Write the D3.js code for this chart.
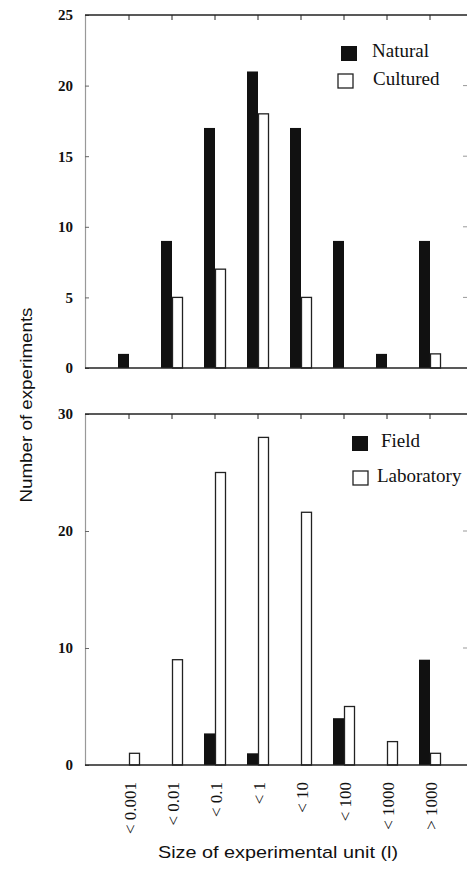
<!DOCTYPE html>
<html>
<head>
<meta charset="utf-8">
<script src="https://cdn.jsdelivr.net/npm/d3@7"></script>
<style>
  body { margin: 0; background: #fff; }
  svg { display: block; }
</style>
</head>
<body>
<svg id="chart"></svg>
<script>
// data
const categories = ["< 0.001", "< 0.01", "< 0.1", "< 1", "< 10", "< 100", "< 1000", "> 1000"];
const natural = [1, 9, 17, 21, 17, 9, 1, 9];
const cultured = [0, 5, 7, 18, 5, 0, 0, 1];
const field = [0, 0, 2.7, 1, 0, 4, 0, 9];
const laboratory = [1, 9, 25, 28, 21.6, 5, 2, 1];
const topTicks = [0, 5, 10, 15, 20, 25];
const bottomTicks = [0, 10, 20, 30];

const width = 467, height = 873;
const left = 85, right = 467;
const barW = 11;

const svg = d3.select("#chart")
    .attr("width", width)
    .attr("height", height);

const x = d3.scalePoint()
    .domain(categories)
    .range([129, 430]);

function panel(cfg) {
    const y = d3.scaleLinear()
        .domain([0, cfg.max])
        .range([cfg.bottom, cfg.top]);

    const g = svg.append("g");

    // left axis (ticks inside, labels outside)
    const axis = g.append("g")
        .attr("transform", `translate(${left},0)`)
        .call(d3.axisLeft(y).tickValues(cfg.ticks).tickSize(-4).tickPadding(12).tickFormat(d3.format("d")));
    axis.select(".domain").attr("stroke", "#999").attr("stroke-width", 1.2);
    axis.selectAll(".tick line").attr("stroke", "#666");
    axis.selectAll(".tick text")
        .attr("font-family", "'Liberation Serif', 'Times New Roman', serif")
        .attr("font-size", 15)
        .attr("font-weight", "bold")
        .attr("fill", "#111");

    // right-hand tick marks of the frame
    g.append("g").selectAll("line")
        .data(cfg.ticks.slice(1, -1))
        .join("line")
        .attr("x1", right - 4).attr("x2", right)
        .attr("y1", d => y(d)).attr("y2", d => y(d))
        .attr("stroke", "#999");

    // top frame line with ticks
    g.append("line")
        .attr("x1", left).attr("x2", right)
        .attr("y1", y(cfg.max)).attr("y2", y(cfg.max))
        .attr("stroke", "#222").attr("stroke-width", 1.3);
    g.append("g").selectAll("line")
        .data(categories)
        .join("line")
        .attr("x1", d => x(d)).attr("x2", d => x(d))
        .attr("y1", y(cfg.max)).attr("y2", y(cfg.max) + 5)
        .attr("stroke", "#222");

    // bars: filled series left of the centre, open series right
    g.append("g").selectAll("rect")
        .data(cfg.filled)
        .join("rect")
        .attr("x", (d, i) => x(categories[i]) - barW)
        .attr("y", d => y(d))
        .attr("width", barW)
        .attr("height", d => y(0) - y(d))
        .attr("fill", "#111");

    g.append("g").selectAll("rect")
        .data(cfg.open)
        .join("rect")
        .attr("x", (d, i) => x(categories[i]) + 0.5)
        .attr("y", d => y(d))
        .attr("width", barW - 1)
        .attr("height", d => y(0) - y(d))
        .attr("fill", "#fff")
        .attr("stroke", d => d > 0 ? "#222" : "none")
        .attr("stroke-width", 1.3);

    // baseline
    g.append("line")
        .attr("x1", left).attr("x2", right)
        .attr("y1", y(0)).attr("y2", y(0))
        .attr("stroke", "#222").attr("stroke-width", 1.3);

    // legend
    const lg = g.append("g")
        .attr("font-family", "'Liberation Serif', 'Times New Roman', serif")
        .attr("font-size", 19)
        .attr("fill", "#111");
    lg.append("rect")
        .attr("x", cfg.legend.x1).attr("y", cfg.legend.y1)
        .attr("width", 16).attr("height", 15)
        .attr("fill", "#111");
    lg.append("text")
        .attr("x", cfg.legend.tx1).attr("y", cfg.legend.y1 + 11)
        .text(cfg.names[0]);
    lg.append("rect")
        .attr("x", cfg.legend.x2).attr("y", cfg.legend.y2)
        .attr("width", 15).attr("height", 14)
        .attr("fill", "#fff").attr("stroke", "#222").attr("stroke-width", 1.3);
    lg.append("text")
        .attr("x", cfg.legend.tx2).attr("y", cfg.legend.y2 + 11)
        .text(cfg.names[1]);

    return y;
}

panel({
    max: 25, top: 15, bottom: 368, ticks: topTicks,
    filled: natural, open: cultured, names: ["Natural", "Cultured"],
    legend: { x1: 341, y1: 46, tx1: 372, x2: 338, y2: 74, tx2: 373 }
});

const yb = panel({
    max: 30, top: 414, bottom: 765, ticks: bottomTicks,
    filled: field, open: laboratory, names: ["Field", "Laboratory"],
    legend: { x1: 352, y1: 436, tx1: 381, x2: 353, y2: 471, tx2: 377 }
});

// category labels, rotated
svg.append("g").selectAll("text")
    .data(categories)
    .join("text")
    .attr("transform", d => `translate(${x(d) + 1},782) rotate(-90)`)
    .attr("text-anchor", "end")
    .attr("dy", "0.35em")
    .attr("font-family", "'Liberation Serif', 'Times New Roman', serif")
    .attr("font-size", 17)
    .attr("fill", "#111")
    .text(d => d);

// axis titles
svg.append("text")
    .attr("transform", "translate(32,405) rotate(-90)")
    .attr("text-anchor", "middle")
    .attr("font-family", "'Liberation Sans', Arial, sans-serif")
    .attr("font-size", 17)
    .attr("textLength", 195)
    .attr("lengthAdjust", "spacingAndGlyphs")
    .attr("fill", "#111")
    .text("Number of experiments");

svg.append("text")
    .attr("x", 278)
    .attr("y", 858)
    .attr("text-anchor", "middle")
    .attr("font-family", "'Liberation Sans', Arial, sans-serif")
    .attr("font-size", 17)
    .attr("textLength", 240)
    .attr("lengthAdjust", "spacingAndGlyphs")
    .attr("fill", "#111")
    .text("Size of experimental unit (l)");
</script>
</body>
</html>
